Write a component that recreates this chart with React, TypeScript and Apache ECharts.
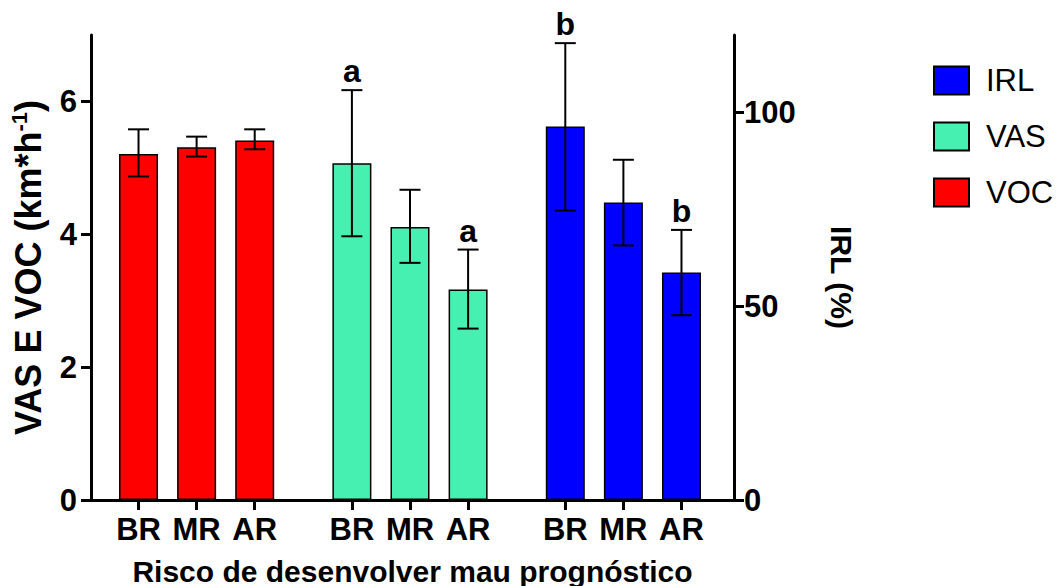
import React, { useEffect, useRef } from "react";
import * as echarts from "echarts";

// ---- data ----
const riskLabels = ["BR", "MR", "AR"];
const seriesNames = ["IRL", "VAS", "VOC"];
// VOC (km*h-1) – left axis
const vocMean = [5.21, 5.31, 5.41];
const vocLow = [4.87, 5.17, 5.28];
const vocHigh = [5.58, 5.47, 5.58];
// VAS (km*h-1) – left axis
const vasMean = [5.07, 4.11, 3.17];
const vasLow = [3.97, 3.57, 2.58];
const vasHigh = [6.17, 4.67, 3.77];
const vasLetters = ["a", "", "a"];
// IRL (%) – right axis
const irlMean = [96.4, 76.8, 58.7];
const irlLow = [74.7, 65.7, 47.7];
const irlHigh = [117.9, 87.8, 69.7];
const irlLetters = ["b", "", "b"];
const vocLetters = ["", "", ""];
const leftTicks = [0, 2, 4, 6];
const rightTicks = [0, 50, 100];

const FONT = "'Liberation Sans', Arial, Helvetica, sans-serif";
const GROUP_STEP = 3.673;

const xPos = (group: number, i: number) => group * GROUP_STEP + i;
const allPos: number[] = [];
for (let g = 0; g < 3; g++) for (let i = 0; i < 3; i++) allPos.push(xPos(g, i));

function barData(group: number, vals: number[]) {
  return vals.map((v, i) => [xPos(group, i), v]);
}
function errData(group: number, mean: number[], low: number[], high: number[]) {
  return mean.map((m, i) => [xPos(group, i), m, low[i], high[i]]);
}

function makeErr(group: number, mean: number[], low: number[], high: number[], letters: string[], yAxisIndex: number) {
  return {
    type: "custom",
    yAxisIndex,
    silent: true,
    z: 5,
    clip: false,
    data: errData(group, mean, low, high),
    renderItem: (params: any, api: any) => {
      const x = api.value(0);
      const top = api.coord([x, api.value(3)]);
      const bot = api.coord([x, api.value(2)]);
      const half = 10.5;
      const st = { stroke: "#000", lineWidth: 2 };
      const children: any[] = [
        { type: "line", shape: { x1: top[0], y1: top[1], x2: bot[0], y2: bot[1] }, style: st },
        { type: "line", shape: { x1: top[0] - half, y1: top[1], x2: top[0] + half, y2: top[1] }, style: st },
        { type: "line", shape: { x1: bot[0] - half, y1: bot[1], x2: bot[0] + half, y2: bot[1] }, style: st },
      ];
      const letter = letters[params.dataIndex];
      if (letter) {
        children.push({
          type: "text",
          x: top[0],
          y: top[1] - 3,
          style: {
            text: letter,
            fill: "#000",
            font: `bold 32px ${FONT}`,
            align: "center",
            verticalAlign: "bottom",
          },
        });
      }
      return { type: "group", children };
    },
  };
}

const barBase = {
  type: "bar",
  barWidth: 39,
  barGap: "-100%",
  z: 2,
};

export default function App() {
  const ref = useRef<HTMLDivElement>(null);
  useEffect(() => {
    if (!ref.current) return;
    const chart = echarts.init(ref.current, undefined, { renderer: "svg" });
    const axisLineStyle = { color: "#000", width: 3 };
    const labelStyle = { color: "#000", fontFamily: FONT, fontWeight: "bold", fontSize: 31 };
    chart.setOption({
      animation: false,
      backgroundColor: "#fff",
      textStyle: { fontFamily: FONT },
      grid: { left: 91, right: 325, top: 35, bottom: 86, containLabel: false, outerBoundsMode: "none" },
      legend: {
        orient: "vertical",
        left: 933,
        top: 65,
        padding: 0,
        itemWidth: 35,
        itemHeight: 28,
        itemGap: 25,
        icon: "rect",
        data: seriesNames,
        textStyle: { fontFamily: FONT, fontSize: 31, color: "#000", padding: [0, 0, 0, 12] },
      },
      xAxis: {
        type: "value",
        min: -0.818,
        max: 10.25,
        splitLine: { show: false },
        axisLine: { show: true, onZero: false, lineStyle: axisLineStyle },
        axisTick: { show: true, customValues: allPos, length: 10, lineStyle: { color: "#000", width: 3 } },
        axisLabel: {
          ...labelStyle,
          customValues: allPos,
          margin: 14,
          formatter: (v: number) => {
            const idx = allPos.findIndex((p) => Math.abs(p - v) < 0.01);
            return idx >= 0 ? riskLabels[idx % 3] : "";
          },
        },
        name: "Risco de desenvolver mau prognóstico",
        nameLocation: "middle",
        nameGap: 56,
        nameTextStyle: { color: "#000", fontFamily: FONT, fontWeight: "bold", fontSize: 30 },
      },
      yAxis: [
        {
          type: "value",
          min: 0,
          max: 7,
          position: "left",
          splitLine: { show: false },
          axisLine: { show: true, onZero: false, lineStyle: axisLineStyle },
          axisTick: { show: true, customValues: leftTicks, length: 10, lineStyle: { color: "#000", width: 3 } },
          axisLabel: { ...labelStyle, customValues: leftTicks, margin: 14 },
          name: "VAS E VOC (km*h{sup|-1})",
          nameLocation: "middle",
          nameGap: 42,
          nameTextStyle: {
            color: "#000",
            fontFamily: FONT,
            fontWeight: "bold",
            fontSize: 36,
            lineHeight: 40,
            rich: {
              sup: { fontFamily: FONT, fontWeight: "bold", fontSize: 22, color: "#000", verticalAlign: "top", lineHeight: 22 },
            },
          },
        },
        {
          type: "value",
          min: 0,
          max: 120,
          position: "right",
          splitLine: { show: false },
          axisLine: { show: true, onZero: false, lineStyle: axisLineStyle },
          axisTick: { show: true, customValues: rightTicks, length: 10, lineStyle: { color: "#000", width: 3 } },
          axisLabel: { ...labelStyle, customValues: rightTicks, margin: 10 },
          name: "IRL (%)",
          nameLocation: "middle",
          nameRotate: -90,
          nameGap: 92,
          nameTextStyle: { color: "#000", fontFamily: FONT, fontWeight: "bold", fontSize: 30, padding: [0, 0, 0, 20] },
        },
      ],
      series: [
        {
          ...barBase,
          name: "IRL",
          yAxisIndex: 1,
          data: barData(2, irlMean),
          itemStyle: { color: "#0000FF", borderColor: "#000", borderWidth: 1.5 },
        },
        {
          ...barBase,
          name: "VAS",
          yAxisIndex: 0,
          data: barData(1, vasMean),
          itemStyle: { color: "#46F0B0", borderColor: "#000", borderWidth: 1.5 },
        },
        {
          ...barBase,
          name: "VOC",
          yAxisIndex: 0,
          data: barData(0, vocMean),
          itemStyle: { color: "#FF0000", borderColor: "#000", borderWidth: 1.5 },
        },
        makeErr(2, irlMean, irlLow, irlHigh, irlLetters, 1),
        makeErr(1, vasMean, vasLow, vasHigh, vasLetters, 0),
        makeErr(0, vocMean, vocLow, vocHigh, vocLetters, 0),
      ],
    });
    return () => chart.dispose();
  }, []);
  return (
    <div
      ref={ref}
      style={{ position: "absolute", left: 0, top: 0, width: 1059, height: 586, background: "#fff" }}
    />
  );
}
